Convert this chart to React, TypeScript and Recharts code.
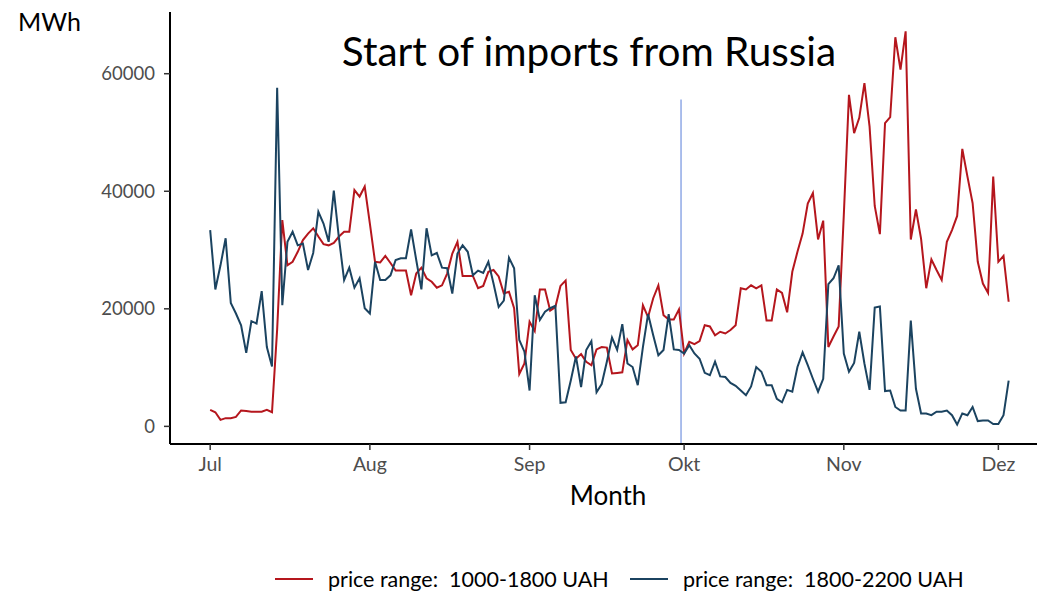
import React from 'react';
import { LineChart, Line, XAxis, YAxis, ReferenceLine, Legend } from 'recharts';

// day index 0 = 1 July, daily values (MWh)
const redValues = [
  2800, 2400, 1100, 1400, 1400, 1600, 2700, 2600, 2500, 2500,
  2500, 2800, 2400, 16500, 35100, 27400, 28000, 29700, 31700, 32800,
  33700, 32300, 31000, 30800, 31200, 32300, 33100, 33100, 40200, 39100,
  40800, 34500, 28000, 27900, 29000, 27800, 26500, 26500, 26500, 22300,
  26000, 27000, 25200, 24600, 23600, 24000, 26000, 29400, 31400, 25600,
  25600, 25600, 23500, 23900, 26300, 26600, 25500, 22600, 22900, 20100,
  8900, 10700, 17800, 16200, 23300, 23300, 19700, 20300, 23900, 24800,
  13000, 11500, 12300, 11000, 10400, 13100, 13500, 13400, 9000, 9100,
  9200, 14700, 13100, 13800, 20600, 18600, 21800, 24000, 18900, 18200,
  18200, 19900, 12400, 14400, 14000, 14500, 17200, 17000, 15500, 16100,
  15800, 16400, 17200, 23500, 23300, 24000, 23500, 24000, 18000, 18000,
  23300, 22700, 19400, 26300, 29700, 32800, 37900, 39700, 31800, 35000,
  13500, 15300, 17000, 36000, 56400, 49900, 52500, 58400, 51000, 37500,
  32700, 51600, 52600, 66200, 60700, 67200, 31800, 36900, 31900, 23500,
  28400, 26600, 24900, 31400, 33400, 35800, 47200, 42500, 38000, 28000,
  24300, 22700, 42500, 28000, 29000, 21200,
];

const blueValues = [
  33400, 23300, 27400, 32000, 21000, 19200, 17200, 12500, 17900, 17500,
  23000, 13500, 10200, 57600, 20600, 31400, 33100, 30800, 31100, 26600,
  29500, 36500, 34500, 31400, 40100, 32000, 24900, 27000, 23600, 25200,
  20100, 19200, 28000, 24900, 24900, 25700, 28300, 28600, 28600, 33500,
  28300, 23300, 33700, 29100, 29500, 27000, 26900, 22600, 29400, 30800,
  29700, 25700, 26500, 26100, 28000, 24300, 20300, 21400, 28700, 26900,
  14700, 12700, 6100, 22300, 18100, 19500, 20100, 20500, 4000, 4100,
  7800, 11900, 6700, 13000, 14500, 5800, 7200, 11000, 15100, 13000,
  17400, 10700, 10100, 7000, 13500, 19100, 15500, 12100, 13000, 19100,
  13100, 13000, 12400, 13800, 12400, 11500, 9100, 8700, 11000, 8500,
  8400, 7400, 6900, 6100, 5300, 6800, 10100, 9300, 7000, 7000,
  4700, 4100, 6200, 5900, 10100, 12600, 10400, 8100, 5900, 8100,
  24200, 25200, 27400, 12400, 9300, 10800, 16100, 10700, 6200, 20200,
  20400, 6000, 6100, 3300, 2700, 2700, 18000, 6400, 2200, 2200,
  1900, 2500, 2500, 2700, 1900, 300, 2200, 1900, 3300, 900,
  1000, 1000, 400, 400, 1900, 7800,
];

const monthTicks = [0, 31, 62, 92, 123, 153];
const monthLabels = ['Jul', 'Aug', 'Sep', 'Okt', 'Nov', 'Dez'];
const yTicks = [0, 20000, 40000, 60000];
const seriesNames = ['price range:  1000-1800 UAH', 'price range:  1800-2200 UAH'];
const importStartDay = 91.4;
const importLineTop = 55600;

const data = redValues.map((r, i) => ({ day: i, red: r, blue: blueValues[i] }));

const RED = '#b5161d';
const BLUE = '#1b4360';
const FONT = 'Lato, "Open Sans", sans-serif';

const LegendContent = (props: any) => {
  const payload = props.payload || [];
  return (
    <div style={{ display: 'flex', alignItems: 'center', fontFamily: FONT, fontSize: 21.5, color: '#000', lineHeight: '26px' }}>
      {payload.map((p: any, i: number) => (
        <div key={i} style={{ display: 'flex', alignItems: 'center', width: i === 0 ? 355 : 340 }}>
          <div style={{ width: 38, height: 2, background: p.color, marginRight: 15, flex: 'none' }} />
          <span style={{ whiteSpace: 'pre' }}>{p.value}</span>
        </div>
      ))}
    </div>
  );
};

export default function App() {
  return (
    <div style={{ position: 'absolute', left: 0, top: 0, width: 1038, height: 591, background: '#fff', fontFamily: FONT }}>
      <LineChart width={1038} height={591} data={data} margin={{ top: 12, right: 1, bottom: 0, left: 0 }}>
        <XAxis
          dataKey="day"
          type="number"
          domain={[-7.8, 160.5]}
          ticks={monthTicks}
          interval={0}
          tickFormatter={(v: number) => monthLabels[monthTicks.indexOf(v)]}
          height={121}
          axisLine={{ stroke: '#000', strokeWidth: 2 }}
          tickLine={{ stroke: '#333', strokeWidth: 1.5 }}
          tickSize={6}
          tickMargin={7}
          tick={{ fill: '#4d4d4d', fontSize: 19.5, fontFamily: FONT }}
          allowDataOverflow
        />
        <YAxis
          type="number"
          domain={[-3000, 70500]}
          ticks={yTicks}
          interval={0}
          width={170}
          axisLine={{ stroke: '#000', strokeWidth: 2 }}
          tickLine={{ stroke: '#333', strokeWidth: 1.5 }}
          tickSize={6}
          tickMargin={9}
          tick={{ fill: '#4d4d4d', fontSize: 18.5, fontFamily: FONT }}
          allowDataOverflow
        />
        <ReferenceLine
          segment={[{ x: importStartDay, y: -3000 }, { x: importStartDay, y: importLineTop }]}
          stroke="#7393e0"
          strokeWidth={1.2}
          ifOverflow="visible"
        />
        <Line name={seriesNames[0]} dataKey="red" stroke={RED} strokeWidth={2} dot={false} isAnimationActive={false} />
        <Line name={seriesNames[1]} dataKey="blue" stroke={BLUE} strokeWidth={2} dot={false} isAnimationActive={false} />
        <Legend
          content={<LegendContent />}
          wrapperStyle={{ position: 'absolute', left: 275, top: 566, width: 720, height: 26 }}
        />
      </LineChart>
      <div style={{ position: 'absolute', left: 0, width: 1178, top: 24, textAlign: 'center', fontSize: 40.5, color: '#000', whiteSpace: 'nowrap', lineHeight: '54px' }}>
        Start of imports from Russia
      </div>
      <div style={{ position: 'absolute', left: 18, top: 5, fontSize: 25, color: '#000', lineHeight: '32px' }}>MWh</div>
      <div style={{ position: 'absolute', left: 0, width: 1216, top: 479, textAlign: 'center', fontSize: 26, color: '#000', lineHeight: '32px' }}>Month</div>
    </div>
  );
}
